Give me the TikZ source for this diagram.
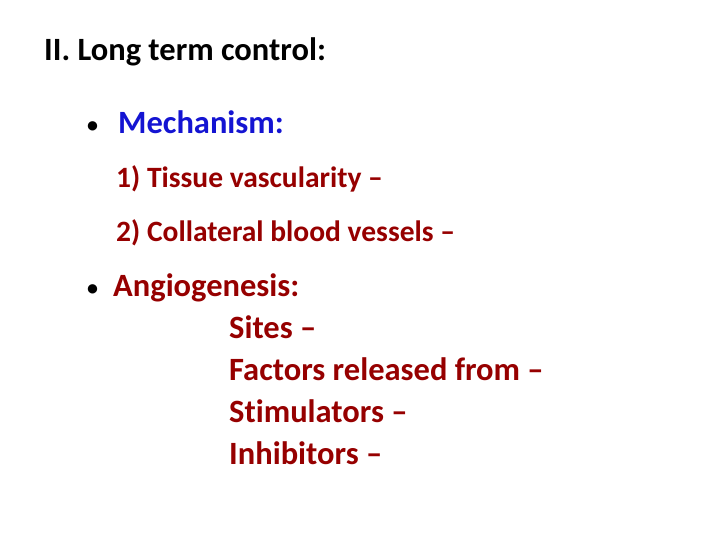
\documentclass[tikz,border=0pt]{standalone}
\usepackage{fontspec}
\setmainfont[Ligatures={NoCommon}]{Carlito}
\definecolor{dred}{RGB}{150,0,0}
\definecolor{mblue}{RGB}{20,20,210}
\begin{document}
\begin{tikzpicture}[x=1pt,y=-1pt,
  txt/.style={anchor=base west,inner sep=0pt,font=\bfseries\fontsize{32.5}{36}\selectfont},
  sub/.style={anchor=base west,inner sep=0pt,font=\bfseries\fontsize{29.5}{34}\selectfont},
  bul/.style={anchor=base west,inner sep=0pt,font=\bfseries\fontsize{22}{26}\selectfont}]
\useasboundingbox (0,0) rectangle (720,540);
\node[txt] (t) at (44,61) {II. Long term control:};
\node[bul] (b1) at (87,133) {•};
\node[txt,text=mblue] (m) at (118,134) {Mechanism:};
\node[sub,text=dred] (m1) at (116,188) {1) Tissue vascularity –};
\node[sub,text=dred] (m2) at (116,241) {2) Collateral blood vessels –};
\node[bul] (b2) at (87,295) {•};
\node[txt,text=dred] (a) at (113,296) {Angiogenesis:};
\node[txt,text=dred] (s1) at (229,338) {Sites –};
\node[txt,text=dred] (s2) at (229,380) {Factors released from –};
\node[txt,text=dred] (s3) at (229,422) {Stimulators –};
\node[txt,text=dred] (s4) at (229,464) {Inhibitors –};
\end{tikzpicture}
\end{document}
